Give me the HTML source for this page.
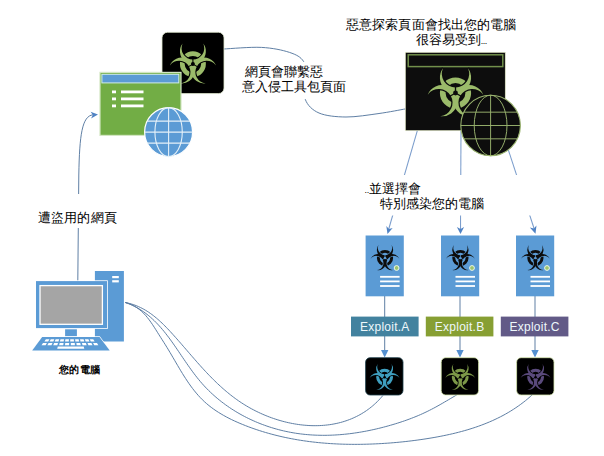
<!DOCTYPE html>
<html><head><meta charset="utf-8"><style>
html,body{margin:0;padding:0;background:#fff;width:604px;height:456px;overflow:hidden}
body{position:relative;font-family:"Liberation Sans",sans-serif;color:#000}
svg{position:absolute;left:0;top:0}
.t{position:absolute;white-space:nowrap;font-size:13px;line-height:15px}
.ex{position:absolute;white-space:nowrap;font-size:12px;line-height:14px;color:#eef8fb;text-align:center;width:67.6px;letter-spacing:0.25px}
</style></head><body>
<svg width="604" height="456" viewBox="0 0 604 456"><g fill="none" stroke="#56789f" stroke-width="0.95"><path d="M125.30,302.50 L127.33,302.92 L129.32,303.41 L131.27,303.95 L133.18,304.55 L135.05,305.21 L136.88,305.92 L138.67,306.69 L140.43,307.51 L142.16,308.37 L143.85,309.29 L145.51,310.24 L147.15,311.24 L148.75,312.29 L150.32,313.37 L151.87,314.49 L153.40,315.64 L154.90,316.83 L156.38,318.05 L157.84,319.30 L159.28,320.57 L160.70,321.88 L162.11,323.20 L163.50,324.55 L164.88,325.92 L166.24,327.31 L167.59,328.71 L168.93,330.13 L170.27,331.56 L171.59,333.01 L172.91,334.46 L174.23,335.92 L175.54,337.38 L176.84,338.85 L178.14,340.33 L179.44,341.81 L180.74,343.29 L182.03,344.78 L183.32,346.27 L184.61,347.76 L185.90,349.25 L187.19,350.74 L188.47,352.24 L189.76,353.73 L191.05,355.22 L192.34,356.70 L193.63,358.19 L194.92,359.67 L196.21,361.14 L197.51,362.61 L198.81,364.08 L200.11,365.53 L201.42,366.98 L202.73,368.43 L204.05,369.86 L205.37,371.29 L206.70,372.70 L208.03,374.11 L209.38,375.50 L210.72,376.89 L212.08,378.27 L213.44,379.63 L214.82,380.98 L216.20,382.32 L217.59,383.65 L219.00,384.97 L220.41,386.27 L221.83,387.56 L223.27,388.83 L224.72,390.09 L226.18,391.33 L227.65,392.56 L229.14,393.78 L230.64,394.97 L232.15,396.15 L233.68,397.32 L235.23,398.46 L236.79,399.59 L238.37,400.70 L239.96,401.79 L241.58,402.86 L243.21,403.91 L244.86,404.94 L246.52,405.95 L248.21,406.94 L249.91,407.91 L251.63,408.86 L253.36,409.78 L255.11,410.69 L256.88,411.57 L258.66,412.43 L260.46,413.26 L262.26,414.07 L264.08,414.86 L265.92,415.62 L267.76,416.36 L269.61,417.07 L271.48,417.75 L273.35,418.41 L275.24,419.05 L277.13,419.66 L279.03,420.24 L280.94,420.79 L282.85,421.32 L284.77,421.82 L286.70,422.29 L288.63,422.73 L290.57,423.14 L292.51,423.52 L294.45,423.87 L296.40,424.20 L298.35,424.49 L300.30,424.75 L302.25,424.98 L304.20,425.18 L306.15,425.34 L308.10,425.48 L310.05,425.58 L311.99,425.65 L313.94,425.68 L315.88,425.68 L317.81,425.65 L319.75,425.58 L321.67,425.48 L323.60,425.34 L325.51,425.17 L327.42,424.96 L329.32,424.72 L331.22,424.44 L333.10,424.12 L334.98,423.76 L336.84,423.37 L338.70,422.94 L340.55,422.47 L342.38,421.96 L344.20,421.41 L346.01,420.82 L347.81,420.20 L349.59,419.53 L351.36,418.82 L353.11,418.07 L354.85,417.28 L356.57,416.45 L358.28,415.58 L359.96,414.66 L361.63,413.70 L363.28,412.70 L364.92,411.66 L366.53,410.57 L368.12,409.43 L369.69,408.26 L371.24,407.04 L372.77,405.77 L374.28,404.45 L375.76,403.10 L377.22,401.69 L378.65,400.24 L380.06,398.74 L381.44,397.19 L382.80,395.60"/><path d="M125.30,302.50 L127.74,303.38 L130.12,304.34 L132.44,305.37 L134.69,306.47 L136.88,307.63 L139.01,308.85 L141.08,310.14 L143.11,311.49 L145.08,312.89 L147.00,314.34 L148.88,315.85 L150.71,317.41 L152.49,319.02 L154.24,320.67 L155.95,322.36 L157.62,324.10 L159.26,325.87 L160.87,327.67 L162.45,329.52 L164.00,331.39 L165.52,333.29 L167.03,335.22 L168.51,337.17 L169.97,339.14 L171.42,341.13 L172.85,343.14 L174.27,345.17 L175.69,347.21 L177.09,349.25 L178.49,351.31 L179.88,353.37 L181.28,355.43 L182.67,357.50 L184.07,359.56 L185.48,361.62 L186.89,363.68 L188.32,365.72 L189.75,367.76 L191.20,369.78 L192.67,371.79 L194.15,373.78 L195.66,375.75 L197.19,377.70 L198.74,379.62 L200.33,381.52 L201.94,383.38 L203.58,385.22 L205.26,387.02 L206.96,388.80 L208.70,390.54 L210.46,392.25 L212.26,393.93 L214.08,395.57 L215.93,397.19 L217.80,398.77 L219.70,400.32 L221.63,401.84 L223.58,403.32 L225.56,404.78 L227.56,406.20 L229.58,407.59 L231.63,408.94 L233.70,410.26 L235.78,411.55 L237.89,412.81 L240.02,414.04 L242.17,415.23 L244.34,416.38 L246.52,417.51 L248.73,418.60 L250.95,419.65 L253.18,420.67 L255.43,421.66 L257.70,422.62 L259.98,423.54 L262.28,424.43 L264.59,425.28 L266.91,426.10 L269.24,426.88 L271.59,427.63 L273.94,428.34 L276.31,429.02 L278.68,429.66 L281.07,430.27 L283.46,430.85 L285.86,431.39 L288.27,431.89 L290.68,432.36 L293.10,432.79 L295.53,433.19 L297.96,433.55 L300.39,433.88 L302.83,434.17 L305.27,434.43 L307.72,434.65 L310.17,434.85 L312.62,435.00 L315.08,435.13 L317.53,435.22 L319.99,435.28 L322.45,435.32 L324.91,435.32 L327.37,435.29 L329.84,435.23 L332.30,435.14 L334.76,435.02 L337.22,434.87 L339.68,434.69 L342.14,434.49 L344.60,434.26 L347.06,434.00 L349.51,433.72 L351.96,433.41 L354.41,433.07 L356.86,432.71 L359.30,432.32 L361.74,431.91 L364.17,431.48 L366.60,431.02 L369.03,430.54 L371.45,430.03 L373.86,429.51 L376.27,428.96 L378.67,428.39 L381.07,427.80 L383.46,427.18 L385.84,426.55 L388.21,425.90 L390.58,425.23 L392.94,424.54 L395.29,423.83 L397.63,423.11 L399.96,422.36 L402.29,421.59 L404.60,420.80 L406.90,419.99 L409.20,419.15 L411.48,418.29 L413.75,417.40 L416.02,416.49 L418.27,415.55 L420.51,414.58 L422.74,413.59 L424.95,412.56 L427.16,411.51 L429.35,410.42 L431.53,409.31 L433.70,408.16 L435.86,407.00 L438.01,405.81 L440.15,404.60 L442.29,403.38 L444.42,402.14 L446.55,400.89 L448.68,399.64 L450.81,398.38 L452.94,397.12 L455.07,395.86 L457.20,394.60"/><path d="M125.30,302.50 L128.44,303.45 L131.38,304.62 L134.13,305.99 L136.69,307.54 L139.10,309.27 L141.35,311.14 L143.47,313.16 L145.48,315.29 L147.38,317.53 L149.19,319.86 L150.92,322.26 L152.60,324.71 L154.23,327.21 L155.83,329.73 L157.41,332.25 L158.99,334.77 L160.58,337.28 L162.17,339.78 L163.76,342.28 L165.35,344.79 L166.92,347.33 L168.48,349.88 L170.02,352.47 L171.56,355.07 L173.09,357.69 L174.62,360.32 L176.15,362.95 L177.69,365.58 L179.25,368.21 L180.81,370.83 L182.40,373.43 L184.01,376.02 L185.65,378.57 L187.32,381.10 L189.03,383.60 L190.78,386.05 L192.56,388.46 L194.40,390.82 L196.29,393.12 L198.23,395.37 L200.24,397.55 L202.31,399.66 L204.44,401.70 L206.65,403.66 L208.91,405.55 L211.24,407.36 L213.63,409.11 L216.07,410.79 L218.57,412.41 L221.11,413.96 L223.69,415.46 L226.31,416.90 L228.97,418.29 L231.66,419.63 L234.39,420.91 L237.13,422.15 L239.90,423.35 L242.69,424.51 L245.49,425.62 L248.31,426.71 L251.14,427.75 L253.98,428.76 L256.83,429.73 L259.69,430.67 L262.56,431.57 L265.44,432.44 L268.33,433.27 L271.23,434.07 L274.14,434.84 L277.05,435.57 L279.98,436.27 L282.91,436.94 L285.84,437.58 L288.79,438.18 L291.73,438.76 L294.69,439.30 L297.65,439.82 L300.61,440.30 L303.58,440.75 L306.55,441.18 L309.53,441.58 L312.51,441.94 L315.49,442.28 L318.47,442.60 L321.45,442.88 L324.44,443.14 L327.43,443.37 L330.41,443.58 L333.40,443.76 L336.39,443.92 L339.38,444.05 L342.37,444.16 L345.37,444.24 L348.36,444.30 L351.35,444.34 L354.34,444.36 L357.34,444.35 L360.33,444.33 L363.32,444.28 L366.32,444.21 L369.31,444.12 L372.30,444.01 L375.30,443.89 L378.29,443.74 L381.28,443.58 L384.27,443.39 L387.26,443.19 L390.25,442.97 L393.24,442.73 L396.23,442.47 L399.21,442.19 L402.20,441.90 L405.18,441.58 L408.17,441.24 L411.15,440.89 L414.13,440.51 L417.11,440.12 L420.08,439.70 L423.06,439.27 L426.03,438.82 L429.00,438.34 L431.97,437.85 L434.94,437.33 L437.90,436.79 L440.86,436.23 L443.81,435.64 L446.76,435.03 L449.70,434.39 L452.63,433.72 L455.55,433.02 L458.46,432.29 L461.36,431.52 L464.25,430.73 L467.13,429.90 L469.99,429.03 L472.84,428.13 L475.68,427.19 L478.50,426.21 L481.30,425.19 L484.08,424.13 L486.85,423.03 L489.59,421.88 L492.32,420.69 L495.03,419.45 L497.71,418.17 L500.37,416.84 L503.01,415.46 L505.62,414.02 L508.21,412.54 L510.77,411.00 L513.30,409.41 L515.81,407.76 L518.29,406.06 L520.73,404.30 L523.15,402.48 L525.54,400.61 L527.89,398.67 L530.21,396.66 L532.50,394.60"/><path d="M77.8,281 L78.8,175 C79.5,135 82,116 93,114.8"/><path d="M223.5,49C229.82,48.73 250.40,46.83 261.4,47.4C272.40,47.97 282.47,50.05 289.5,52.4C296.53,54.75 300.68,56.90 303.6,61.5C306.52,66.10 306.70,73.65 307,80C307.30,86.35 303.40,94.10 305.4,99.6C307.40,105.10 312.23,110.10 319,113C325.77,115.90 336.00,116.92 346,117C356.00,117.08 369.08,114.85 379,113.5C388.92,112.15 401.08,109.67 405.5,108.9"/><g stroke="#7b9dcc" stroke-width="1.05"><path d="M417.4,130.3 L388.6,229.5"/><path d="M461.0,130.5 L460.5,229"/><path d="M502,130.5 L534.4,229.5"/></g><path d="M384.7,296 L384.7,317"/><path d="M384.7,336 L384.7,352"/><path d="M460.0,296 L460.0,317"/><path d="M460.0,336 L460.0,352"/><path d="M535.0,296 L535.0,317"/><path d="M535.0,336 L535.0,352"/></g><path fill="#5083c4" d="M98.00,114.60 L91.05,118.39 L92.81,114.96 L90.59,111.81 Z"/><path fill="#5083c4" d="M387.50,233.90 L386.32,226.07 L388.94,228.90 L392.67,227.90 Z"/><path fill="#5083c4" d="M460.50,234.10 L456.90,226.90 L460.50,228.90 L464.10,226.90 Z"/><path fill="#5083c4" d="M535.50,233.70 L529.82,227.55 L533.83,228.56 L536.48,225.39 Z"/><path fill="#5590d0" d="M384.70,357.40 L381.00,350.00 L384.70,350.00 L388.40,350.00 Z"/><path fill="#5590d0" d="M460.00,357.40 L456.30,350.00 L460.00,350.00 L463.70,350.00 Z"/><path fill="#5590d0" d="M535.00,357.40 L531.30,350.00 L535.00,350.00 L538.70,350.00 Z"/><rect x="238" y="62" width="112" height="37" fill="#fff"/><rect x="355" y="175" width="190" height="40.5" fill="#fff"/><rect x="34" y="194" width="88" height="34" fill="#fff"/><rect x="162" y="32.3" width="62" height="61.3" rx="5.5" fill="#000" stroke="#dfe9cf" stroke-width="0.8"/><g transform="translate(192.9,64.1) scale(0.83)" ><path fill="#9bbb6a" fill-rule="evenodd" d="M15.6,0A15.6,15.6 0 1 0 -15.6,0A15.6,15.6 0 1 0 15.6,0ZM9.9,0A9.9,9.9 0 1 0 -9.9,0A9.9,9.9 0 1 0 9.9,0Z"/><path transform="rotate(0)" fill="#000" stroke="#000" stroke-width="2.6" d="M-12.470,-24.873A15.6,15.6 0 1 0 12.470,-24.873A13.7,13.7 0 1 1 -12.470,-24.873Z"/><path transform="rotate(120)" fill="#000" stroke="#000" stroke-width="2.6" d="M-12.470,-24.873A15.6,15.6 0 1 0 12.470,-24.873A13.7,13.7 0 1 1 -12.470,-24.873Z"/><path transform="rotate(240)" fill="#000" stroke="#000" stroke-width="2.6" d="M-12.470,-24.873A15.6,15.6 0 1 0 12.470,-24.873A13.7,13.7 0 1 1 -12.470,-24.873Z"/><path transform="rotate(0)" fill="#9bbb6a" d="M-12.470,-24.873A15.6,15.6 0 1 0 12.470,-24.873A13.7,13.7 0 1 1 -12.470,-24.873Z"/><path transform="rotate(120)" fill="#9bbb6a" d="M-12.470,-24.873A15.6,15.6 0 1 0 12.470,-24.873A13.7,13.7 0 1 1 -12.470,-24.873Z"/><path transform="rotate(240)" fill="#9bbb6a" d="M-12.470,-24.873A15.6,15.6 0 1 0 12.470,-24.873A13.7,13.7 0 1 1 -12.470,-24.873Z"/><circle r="2.4" fill="#000"/><rect transform="rotate(0)" x="-0.65" y="-8.5" width="1.3" height="8.5" fill="#000"/><rect transform="rotate(120)" x="-0.65" y="-8.5" width="1.3" height="8.5" fill="#000"/><rect transform="rotate(240)" x="-0.65" y="-8.5" width="1.3" height="8.5" fill="#000"/></g><rect x="100" y="72.4" width="81" height="63" fill="#72ad45" stroke="#d3e6c2" stroke-width="1.2"/><rect x="101.9" y="74.3" width="76.9" height="8.6" fill="#5b9bd5" stroke="#d0ecec" stroke-width="1"/><rect x="112" y="90.5" width="4" height="2.8" fill="#fff"/><rect x="121" y="90.5" width="22.5" height="2.8" fill="#fff"/><rect x="112" y="97.5" width="4" height="2.8" fill="#fff"/><rect x="121" y="97.5" width="22.5" height="2.8" fill="#fff"/><rect x="112" y="104.5" width="4" height="2.8" fill="#fff"/><rect x="121" y="104.5" width="22.5" height="2.8" fill="#fff"/><g transform="translate(168.6,132.1)"><ellipse rx="24" ry="24.5" fill="#5b9bd5" stroke="#ffffff" stroke-width="1.2"/><ellipse rx="13.68" ry="24.5" fill="none" stroke="#e4f0f8" stroke-width="1.1"/><line x1="0" y1="-24.5" x2="0" y2="24.5" stroke="#e4f0f8" stroke-width="1.1"/><line x1="-21.432685319390103" y1="-11.025" x2="21.432685319390103" y2="-11.025" stroke="#e4f0f8" stroke-width="1.1"/><line x1="-24.0" y1="0.0" x2="24.0" y2="0.0" stroke="#e4f0f8" stroke-width="1.1"/><line x1="-21.432685319390103" y1="11.025" x2="21.432685319390103" y2="11.025" stroke="#e4f0f8" stroke-width="1.1"/></g><rect x="405.3" y="52.3" width="100" height="78.4" fill="#0d0d0d" stroke="#e6edcc" stroke-width="0.7"/><rect x="408.2" y="54.8" width="94.6" height="11.8" fill="#0d0d0d" stroke="#71904b" stroke-width="1.5"/><g transform="translate(455.5,93.0) scale(1.0)" ><path fill="#9bbb6a" fill-rule="evenodd" d="M15.6,0A15.6,15.6 0 1 0 -15.6,0A15.6,15.6 0 1 0 15.6,0ZM9.9,0A9.9,9.9 0 1 0 -9.9,0A9.9,9.9 0 1 0 9.9,0Z"/><path transform="rotate(0)" fill="#0d0d0d" stroke="#0d0d0d" stroke-width="2.6" d="M-12.470,-24.873A15.6,15.6 0 1 0 12.470,-24.873A13.7,13.7 0 1 1 -12.470,-24.873Z"/><path transform="rotate(120)" fill="#0d0d0d" stroke="#0d0d0d" stroke-width="2.6" d="M-12.470,-24.873A15.6,15.6 0 1 0 12.470,-24.873A13.7,13.7 0 1 1 -12.470,-24.873Z"/><path transform="rotate(240)" fill="#0d0d0d" stroke="#0d0d0d" stroke-width="2.6" d="M-12.470,-24.873A15.6,15.6 0 1 0 12.470,-24.873A13.7,13.7 0 1 1 -12.470,-24.873Z"/><path transform="rotate(0)" fill="#9bbb6a" d="M-12.470,-24.873A15.6,15.6 0 1 0 12.470,-24.873A13.7,13.7 0 1 1 -12.470,-24.873Z"/><path transform="rotate(120)" fill="#9bbb6a" d="M-12.470,-24.873A15.6,15.6 0 1 0 12.470,-24.873A13.7,13.7 0 1 1 -12.470,-24.873Z"/><path transform="rotate(240)" fill="#9bbb6a" d="M-12.470,-24.873A15.6,15.6 0 1 0 12.470,-24.873A13.7,13.7 0 1 1 -12.470,-24.873Z"/><circle r="2.4" fill="#0d0d0d"/><rect transform="rotate(0)" x="-0.65" y="-8.5" width="1.3" height="8.5" fill="#0d0d0d"/><rect transform="rotate(120)" x="-0.65" y="-8.5" width="1.3" height="8.5" fill="#0d0d0d"/><rect transform="rotate(240)" x="-0.65" y="-8.5" width="1.3" height="8.5" fill="#0d0d0d"/></g><g transform="translate(490.6,125.5)"><ellipse rx="29.8" ry="30.3" fill="#0d0d0d" stroke="#9ab46f" stroke-width="1.1"/><ellipse rx="16.39" ry="30.3" fill="none" stroke="#9ab46f" stroke-width="0.95"/><line x1="0" y1="-30.3" x2="0" y2="30.3" stroke="#9ab46f" stroke-width="0.95"/><line x1="-26.760333630207228" y1="-13.332" x2="26.760333630207228" y2="-13.332" stroke="#9ab46f" stroke-width="0.95"/><line x1="-29.8" y1="0.0" x2="29.8" y2="0.0" stroke="#9ab46f" stroke-width="0.95"/><line x1="-26.760333630207228" y1="13.332" x2="26.760333630207228" y2="13.332" stroke="#9ab46f" stroke-width="0.95"/></g><rect x="365.6" y="235.5" width="38.2" height="60.8" fill="#5b9bd5"/><g transform="translate(385.0,258.0) scale(0.52)" ><path fill="#0d0d0d" fill-rule="evenodd" d="M15.6,0A15.6,15.6 0 1 0 -15.6,0A15.6,15.6 0 1 0 15.6,0ZM9.9,0A9.9,9.9 0 1 0 -9.9,0A9.9,9.9 0 1 0 9.9,0Z"/><path transform="rotate(0)" fill="#5b9bd5" stroke="#5b9bd5" stroke-width="2.6" d="M-12.470,-24.873A15.6,15.6 0 1 0 12.470,-24.873A13.7,13.7 0 1 1 -12.470,-24.873Z"/><path transform="rotate(120)" fill="#5b9bd5" stroke="#5b9bd5" stroke-width="2.6" d="M-12.470,-24.873A15.6,15.6 0 1 0 12.470,-24.873A13.7,13.7 0 1 1 -12.470,-24.873Z"/><path transform="rotate(240)" fill="#5b9bd5" stroke="#5b9bd5" stroke-width="2.6" d="M-12.470,-24.873A15.6,15.6 0 1 0 12.470,-24.873A13.7,13.7 0 1 1 -12.470,-24.873Z"/><path transform="rotate(0)" fill="#0d0d0d" d="M-12.470,-24.873A15.6,15.6 0 1 0 12.470,-24.873A13.7,13.7 0 1 1 -12.470,-24.873Z"/><path transform="rotate(120)" fill="#0d0d0d" d="M-12.470,-24.873A15.6,15.6 0 1 0 12.470,-24.873A13.7,13.7 0 1 1 -12.470,-24.873Z"/><path transform="rotate(240)" fill="#0d0d0d" d="M-12.470,-24.873A15.6,15.6 0 1 0 12.470,-24.873A13.7,13.7 0 1 1 -12.470,-24.873Z"/><circle r="2.4" fill="#5b9bd5"/><rect transform="rotate(0)" x="-0.65" y="-8.5" width="1.3" height="8.5" fill="#5b9bd5"/><rect transform="rotate(120)" x="-0.65" y="-8.5" width="1.3" height="8.5" fill="#5b9bd5"/><rect transform="rotate(240)" x="-0.65" y="-8.5" width="1.3" height="8.5" fill="#5b9bd5"/></g><circle cx="396.6" cy="268" r="2.4" fill="#9cc46e" stroke="#eef7e8" stroke-width="1"/><rect x="380.1" y="275.90000000000003" width="19.5" height="1.8" fill="#fff"/><rect x="380.1" y="280.5" width="19.5" height="1.8" fill="#fff"/><rect x="380.1" y="285.1" width="19.5" height="1.8" fill="#fff"/><rect x="441" y="235.5" width="38.2" height="60.8" fill="#5b9bd5"/><g transform="translate(460.4,258.0) scale(0.52)" ><path fill="#0d0d0d" fill-rule="evenodd" d="M15.6,0A15.6,15.6 0 1 0 -15.6,0A15.6,15.6 0 1 0 15.6,0ZM9.9,0A9.9,9.9 0 1 0 -9.9,0A9.9,9.9 0 1 0 9.9,0Z"/><path transform="rotate(0)" fill="#5b9bd5" stroke="#5b9bd5" stroke-width="2.6" d="M-12.470,-24.873A15.6,15.6 0 1 0 12.470,-24.873A13.7,13.7 0 1 1 -12.470,-24.873Z"/><path transform="rotate(120)" fill="#5b9bd5" stroke="#5b9bd5" stroke-width="2.6" d="M-12.470,-24.873A15.6,15.6 0 1 0 12.470,-24.873A13.7,13.7 0 1 1 -12.470,-24.873Z"/><path transform="rotate(240)" fill="#5b9bd5" stroke="#5b9bd5" stroke-width="2.6" d="M-12.470,-24.873A15.6,15.6 0 1 0 12.470,-24.873A13.7,13.7 0 1 1 -12.470,-24.873Z"/><path transform="rotate(0)" fill="#0d0d0d" d="M-12.470,-24.873A15.6,15.6 0 1 0 12.470,-24.873A13.7,13.7 0 1 1 -12.470,-24.873Z"/><path transform="rotate(120)" fill="#0d0d0d" d="M-12.470,-24.873A15.6,15.6 0 1 0 12.470,-24.873A13.7,13.7 0 1 1 -12.470,-24.873Z"/><path transform="rotate(240)" fill="#0d0d0d" d="M-12.470,-24.873A15.6,15.6 0 1 0 12.470,-24.873A13.7,13.7 0 1 1 -12.470,-24.873Z"/><circle r="2.4" fill="#5b9bd5"/><rect transform="rotate(0)" x="-0.65" y="-8.5" width="1.3" height="8.5" fill="#5b9bd5"/><rect transform="rotate(120)" x="-0.65" y="-8.5" width="1.3" height="8.5" fill="#5b9bd5"/><rect transform="rotate(240)" x="-0.65" y="-8.5" width="1.3" height="8.5" fill="#5b9bd5"/></g><circle cx="472" cy="268" r="2.4" fill="#9cc46e" stroke="#eef7e8" stroke-width="1"/><rect x="455.5" y="275.90000000000003" width="19.5" height="1.8" fill="#fff"/><rect x="455.5" y="280.5" width="19.5" height="1.8" fill="#fff"/><rect x="455.5" y="285.1" width="19.5" height="1.8" fill="#fff"/><rect x="516" y="235.5" width="38.2" height="60.8" fill="#5b9bd5"/><g transform="translate(535.4,258.0) scale(0.52)" ><path fill="#0d0d0d" fill-rule="evenodd" d="M15.6,0A15.6,15.6 0 1 0 -15.6,0A15.6,15.6 0 1 0 15.6,0ZM9.9,0A9.9,9.9 0 1 0 -9.9,0A9.9,9.9 0 1 0 9.9,0Z"/><path transform="rotate(0)" fill="#5b9bd5" stroke="#5b9bd5" stroke-width="2.6" d="M-12.470,-24.873A15.6,15.6 0 1 0 12.470,-24.873A13.7,13.7 0 1 1 -12.470,-24.873Z"/><path transform="rotate(120)" fill="#5b9bd5" stroke="#5b9bd5" stroke-width="2.6" d="M-12.470,-24.873A15.6,15.6 0 1 0 12.470,-24.873A13.7,13.7 0 1 1 -12.470,-24.873Z"/><path transform="rotate(240)" fill="#5b9bd5" stroke="#5b9bd5" stroke-width="2.6" d="M-12.470,-24.873A15.6,15.6 0 1 0 12.470,-24.873A13.7,13.7 0 1 1 -12.470,-24.873Z"/><path transform="rotate(0)" fill="#0d0d0d" d="M-12.470,-24.873A15.6,15.6 0 1 0 12.470,-24.873A13.7,13.7 0 1 1 -12.470,-24.873Z"/><path transform="rotate(120)" fill="#0d0d0d" d="M-12.470,-24.873A15.6,15.6 0 1 0 12.470,-24.873A13.7,13.7 0 1 1 -12.470,-24.873Z"/><path transform="rotate(240)" fill="#0d0d0d" d="M-12.470,-24.873A15.6,15.6 0 1 0 12.470,-24.873A13.7,13.7 0 1 1 -12.470,-24.873Z"/><circle r="2.4" fill="#5b9bd5"/><rect transform="rotate(0)" x="-0.65" y="-8.5" width="1.3" height="8.5" fill="#5b9bd5"/><rect transform="rotate(120)" x="-0.65" y="-8.5" width="1.3" height="8.5" fill="#5b9bd5"/><rect transform="rotate(240)" x="-0.65" y="-8.5" width="1.3" height="8.5" fill="#5b9bd5"/></g><circle cx="547" cy="268" r="2.4" fill="#9cc46e" stroke="#eef7e8" stroke-width="1"/><rect x="530.5" y="275.90000000000003" width="19.5" height="1.8" fill="#fff"/><rect x="530.5" y="280.5" width="19.5" height="1.8" fill="#fff"/><rect x="530.5" y="285.1" width="19.5" height="1.8" fill="#fff"/><rect x="351" y="316.6" width="67.6" height="19.8" fill="#42829f"/><rect x="425.8" y="316.6" width="67.6" height="19.8" fill="#879f33"/><rect x="500.8" y="316.6" width="67.6" height="19.8" fill="#625a87"/><rect x="365.6" y="357.7" width="37.4" height="37.3" rx="4.5" fill="#000" stroke="#1b3d4a" stroke-width="0.8"/><g transform="translate(384.6,377.2) scale(0.54)" ><path fill="#3f9fbf" fill-rule="evenodd" d="M15.6,0A15.6,15.6 0 1 0 -15.6,0A15.6,15.6 0 1 0 15.6,0ZM9.9,0A9.9,9.9 0 1 0 -9.9,0A9.9,9.9 0 1 0 9.9,0Z"/><path transform="rotate(0)" fill="#000" stroke="#000" stroke-width="2.6" d="M-12.470,-24.873A15.6,15.6 0 1 0 12.470,-24.873A13.7,13.7 0 1 1 -12.470,-24.873Z"/><path transform="rotate(120)" fill="#000" stroke="#000" stroke-width="2.6" d="M-12.470,-24.873A15.6,15.6 0 1 0 12.470,-24.873A13.7,13.7 0 1 1 -12.470,-24.873Z"/><path transform="rotate(240)" fill="#000" stroke="#000" stroke-width="2.6" d="M-12.470,-24.873A15.6,15.6 0 1 0 12.470,-24.873A13.7,13.7 0 1 1 -12.470,-24.873Z"/><path transform="rotate(0)" fill="#3f9fbf" d="M-12.470,-24.873A15.6,15.6 0 1 0 12.470,-24.873A13.7,13.7 0 1 1 -12.470,-24.873Z"/><path transform="rotate(120)" fill="#3f9fbf" d="M-12.470,-24.873A15.6,15.6 0 1 0 12.470,-24.873A13.7,13.7 0 1 1 -12.470,-24.873Z"/><path transform="rotate(240)" fill="#3f9fbf" d="M-12.470,-24.873A15.6,15.6 0 1 0 12.470,-24.873A13.7,13.7 0 1 1 -12.470,-24.873Z"/><circle r="2.4" fill="#000"/><rect transform="rotate(0)" x="-0.65" y="-8.5" width="1.3" height="8.5" fill="#000"/><rect transform="rotate(120)" x="-0.65" y="-8.5" width="1.3" height="8.5" fill="#000"/><rect transform="rotate(240)" x="-0.65" y="-8.5" width="1.3" height="8.5" fill="#000"/></g><rect x="441.2" y="357.7" width="37.4" height="37.3" rx="4.5" fill="#000" stroke="#d8e8b0" stroke-width="0.8"/><g transform="translate(460.2,377.2) scale(0.54)" ><path fill="#7c9848" fill-rule="evenodd" d="M15.6,0A15.6,15.6 0 1 0 -15.6,0A15.6,15.6 0 1 0 15.6,0ZM9.9,0A9.9,9.9 0 1 0 -9.9,0A9.9,9.9 0 1 0 9.9,0Z"/><path transform="rotate(0)" fill="#000" stroke="#000" stroke-width="2.6" d="M-12.470,-24.873A15.6,15.6 0 1 0 12.470,-24.873A13.7,13.7 0 1 1 -12.470,-24.873Z"/><path transform="rotate(120)" fill="#000" stroke="#000" stroke-width="2.6" d="M-12.470,-24.873A15.6,15.6 0 1 0 12.470,-24.873A13.7,13.7 0 1 1 -12.470,-24.873Z"/><path transform="rotate(240)" fill="#000" stroke="#000" stroke-width="2.6" d="M-12.470,-24.873A15.6,15.6 0 1 0 12.470,-24.873A13.7,13.7 0 1 1 -12.470,-24.873Z"/><path transform="rotate(0)" fill="#7c9848" d="M-12.470,-24.873A15.6,15.6 0 1 0 12.470,-24.873A13.7,13.7 0 1 1 -12.470,-24.873Z"/><path transform="rotate(120)" fill="#7c9848" d="M-12.470,-24.873A15.6,15.6 0 1 0 12.470,-24.873A13.7,13.7 0 1 1 -12.470,-24.873Z"/><path transform="rotate(240)" fill="#7c9848" d="M-12.470,-24.873A15.6,15.6 0 1 0 12.470,-24.873A13.7,13.7 0 1 1 -12.470,-24.873Z"/><circle r="2.4" fill="#000"/><rect transform="rotate(0)" x="-0.65" y="-8.5" width="1.3" height="8.5" fill="#000"/><rect transform="rotate(120)" x="-0.65" y="-8.5" width="1.3" height="8.5" fill="#000"/><rect transform="rotate(240)" x="-0.65" y="-8.5" width="1.3" height="8.5" fill="#000"/></g><rect x="516.6" y="357.7" width="37.4" height="37.3" rx="4.5" fill="#000" stroke="#d8e8b0" stroke-width="0.8"/><g transform="translate(535.6,377.2) scale(0.54)" ><path fill="#5a4a7c" fill-rule="evenodd" d="M15.6,0A15.6,15.6 0 1 0 -15.6,0A15.6,15.6 0 1 0 15.6,0ZM9.9,0A9.9,9.9 0 1 0 -9.9,0A9.9,9.9 0 1 0 9.9,0Z"/><path transform="rotate(0)" fill="#000" stroke="#000" stroke-width="2.6" d="M-12.470,-24.873A15.6,15.6 0 1 0 12.470,-24.873A13.7,13.7 0 1 1 -12.470,-24.873Z"/><path transform="rotate(120)" fill="#000" stroke="#000" stroke-width="2.6" d="M-12.470,-24.873A15.6,15.6 0 1 0 12.470,-24.873A13.7,13.7 0 1 1 -12.470,-24.873Z"/><path transform="rotate(240)" fill="#000" stroke="#000" stroke-width="2.6" d="M-12.470,-24.873A15.6,15.6 0 1 0 12.470,-24.873A13.7,13.7 0 1 1 -12.470,-24.873Z"/><path transform="rotate(0)" fill="#5a4a7c" d="M-12.470,-24.873A15.6,15.6 0 1 0 12.470,-24.873A13.7,13.7 0 1 1 -12.470,-24.873Z"/><path transform="rotate(120)" fill="#5a4a7c" d="M-12.470,-24.873A15.6,15.6 0 1 0 12.470,-24.873A13.7,13.7 0 1 1 -12.470,-24.873Z"/><path transform="rotate(240)" fill="#5a4a7c" d="M-12.470,-24.873A15.6,15.6 0 1 0 12.470,-24.873A13.7,13.7 0 1 1 -12.470,-24.873Z"/><circle r="2.4" fill="#000"/><rect transform="rotate(0)" x="-0.65" y="-8.5" width="1.3" height="8.5" fill="#000"/><rect transform="rotate(120)" x="-0.65" y="-8.5" width="1.3" height="8.5" fill="#000"/><rect transform="rotate(240)" x="-0.65" y="-8.5" width="1.3" height="8.5" fill="#000"/></g><rect x="94.9" y="271" width="29" height="70.5" fill="#5b9bd5"/><rect x="112.2" y="276" width="6.6" height="2.2" fill="#fff"/><rect x="112.2" y="280.2" width="6.6" height="2.2" fill="#fff"/><rect x="36" y="281.1" width="71" height="47" fill="#5b9bd5" stroke="#fff" stroke-width="1.6"/><rect x="36" y="281.1" width="71" height="47" fill="#5b9bd5"/><rect x="40" y="285.6" width="62.4" height="38.7" fill="#a5a5a5" stroke="#fff" stroke-width="1.3"/><rect x="65.1" y="329.3" width="11.8" height="7.2" fill="#5b9bd5"/><path d="M42.2,336.9 L99.5,336.9 L109.7,350.6 L32.2,350.6 Z" fill="#5b9bd5" stroke="#fff" stroke-width="1.2"/><path d="M42.2,336.9 L99.5,336.9 L109.7,350.6 L32.2,350.6 Z" fill="#5b9bd5"/><path fill="#fff" d="M45.89,339.20 L49.44,339.20 L48.17,341.50 L44.41,341.50Z"/><path fill="#fff" d="M50.76,339.20 L54.31,339.20 L53.33,341.50 L49.57,341.50Z"/><path fill="#fff" d="M55.63,339.20 L59.18,339.20 L58.49,341.50 L54.73,341.50Z"/><path fill="#fff" d="M60.51,339.20 L64.05,339.20 L63.64,341.50 L59.89,341.50Z"/><path fill="#fff" d="M65.38,339.20 L68.93,339.20 L68.80,341.50 L65.05,341.50Z"/><path fill="#fff" d="M70.25,339.20 L73.80,339.20 L73.96,341.50 L70.20,341.50Z"/><path fill="#fff" d="M75.12,339.20 L78.67,339.20 L79.12,341.50 L75.36,341.50Z"/><path fill="#fff" d="M79.99,339.20 L83.54,339.20 L84.28,341.50 L80.52,341.50Z"/><path fill="#fff" d="M84.86,339.20 L88.41,339.20 L89.44,341.50 L85.68,341.50Z"/><path fill="#fff" d="M89.73,339.20 L93.28,339.20 L94.59,341.50 L90.84,341.50Z"/><path fill="#fff" d="M43.02,342.90 L46.90,342.90 L45.61,345.20 L41.51,345.20Z"/><path fill="#fff" d="M48.58,342.90 L52.47,342.90 L51.47,345.20 L47.38,345.20Z"/><path fill="#fff" d="M54.14,342.90 L58.03,342.90 L57.33,345.20 L53.24,345.20Z"/><path fill="#fff" d="M59.71,342.90 L63.59,342.90 L63.19,345.20 L59.10,345.20Z"/><path fill="#fff" d="M65.27,342.90 L69.16,342.90 L69.06,345.20 L64.96,345.20Z"/><path fill="#fff" d="M70.84,342.90 L74.72,342.90 L74.92,345.20 L70.83,345.20Z"/><path fill="#fff" d="M76.40,342.90 L80.28,342.90 L80.78,345.20 L76.69,345.20Z"/><path fill="#fff" d="M81.96,342.90 L85.85,342.90 L86.65,345.20 L82.55,345.20Z"/><path fill="#fff" d="M87.53,342.90 L91.41,342.90 L92.51,345.20 L88.41,345.20Z"/><path fill="#fff" d="M93.09,342.90 L96.97,342.90 L98.37,345.20 L94.28,345.20Z"/><path fill="#fff" d="M57.83,346.50 L83.67,346.50 L84.30,348.80 L57.18,348.80Z"/></svg>
<div class="t" style="left:346px;top:17px;letter-spacing:0.12px">惡意探索頁面會找出您的電腦</div>
<div class="t" style="left:415.7px;top:32px">很容易受到<span style="font-size:9px;letter-spacing:-0.5px">...</span></div>
<div class="t" style="left:245px;top:64px">網頁會聯繫惡</div>
<div class="t" style="left:242px;top:79px">意入侵工具包頁面</div>
<div class="t" style="left:364.5px;top:180.5px"><span style="font-size:9px;letter-spacing:-0.2px">..</span>並選擇會</div>
<div class="t" style="left:379.5px;top:195.5px;letter-spacing:0.1px">特別感染您的電腦</div>
<div class="t" style="left:37.5px;top:210px;letter-spacing:0.25px">遭盜用的網頁</div>
<div class="t" style="left:59px;top:361.6px;font-size:9.5px;letter-spacing:0.25px;font-weight:bold">您的電腦</div>
<div class="ex" style="left:351px;top:320.2px">Exploit.A</div>
<div class="ex" style="left:425.8px;top:320.2px">Exploit.B</div>
<div class="ex" style="left:500.8px;top:320.2px">Exploit.C</div>
</body></html>
